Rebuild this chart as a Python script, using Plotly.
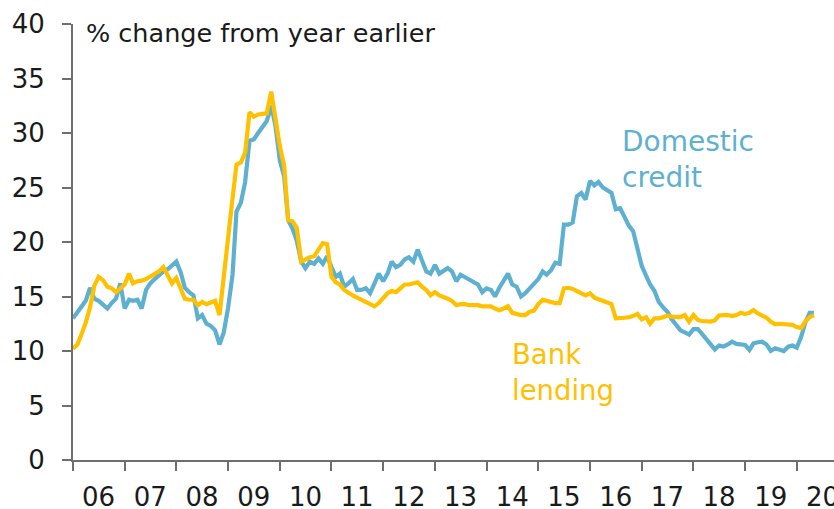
import pandas as pd
import plotly.graph_objects as go

months = pd.date_range("2006-01-01", periods=173, freq="MS")

domestic_credit = [
    13.0, 13.6, 14.0, 14.6, 15.8, 14.8, 14.6, 14.3, 13.9, 14.4, 14.8, 16.2,   # 2006
    13.9, 14.7, 14.6, 14.7, 13.9, 15.6, 16.2, 16.6, 17.0, 17.3, 17.5, 17.8,   # 2007
    18.2, 17.2, 15.8, 15.4, 15.1, 13.0, 13.3, 12.5, 12.3, 11.9, 10.6, 11.7,   # 2008
    14.0, 17.0, 22.8, 23.6, 25.5, 29.3, 29.4, 30.0, 30.6, 31.1, 32.5, 30.7,   # 2009
    27.5, 26.0, 22.0, 21.2, 20.1, 18.2, 17.6, 18.2, 18.0, 18.5, 18.0, 18.7,   # 2010
    17.7, 16.8, 17.1, 15.9, 16.2, 16.6, 15.6, 15.6, 15.75, 15.3, 16.2, 17.1,  # 2011
    16.4, 17.1, 18.2, 17.7, 17.9, 18.4, 18.6, 18.2, 19.3, 18.2, 17.3, 17.1,   # 2012
    17.9, 17.1, 17.3, 17.6, 17.3, 16.4, 17.0, 16.8, 16.6, 16.4, 16.1, 15.4,   # 2013
    15.75, 15.6, 15.0, 15.8, 16.5, 17.1, 16.1, 15.9, 15.0, 15.3, 15.75, 16.2, # 2014
    16.6, 17.3, 17.0, 17.4, 18.1, 18.0, 21.6, 21.6, 21.8, 24.2, 24.5, 23.9,   # 2015
    25.6, 25.2, 25.5, 25.0, 24.7, 24.5, 23.0, 23.1, 22.3, 21.5, 21.0, 19.5,   # 2016
    17.8, 16.9, 16.1, 15.5, 14.5, 14.0, 13.6, 12.9, 12.4, 11.9, 11.7, 11.5,   # 2017
    12.0, 12.0, 11.6, 11.1, 10.6, 10.15, 10.5, 10.4, 10.6, 10.85, 10.65, 10.6, # 2018
    10.55, 10.1, 10.7, 10.8, 10.85, 10.6, 10.0, 10.25, 10.1, 10.0, 10.4, 10.5, # 2019
    10.3, 11.3, 12.6, 13.5, 13.5,                                              # 2020
]

bank_lending = [
    10.2, 10.6, 11.5, 12.6, 14.0, 16.0, 16.8, 16.5, 15.9, 15.75, 15.4, 15.8,  # 2006
    16.1, 17.1, 16.2, 16.4, 16.45, 16.6, 16.8, 17.1, 17.3, 17.7, 17.0, 16.2,  # 2007
    16.7, 15.8, 14.8, 14.7, 14.7, 14.2, 14.5, 14.3, 14.5, 14.6, 13.3, 17.0,   # 2008
    20.5, 24.0, 27.1, 27.3, 28.2, 31.9, 31.5, 31.7, 31.75, 31.8, 33.8, 31.5,  # 2009
    28.8, 27.0, 22.0, 21.9, 21.3, 18.2, 18.4, 18.6, 18.7, 19.3, 19.9, 19.8,   # 2010
    16.8, 16.3, 16.1, 15.6, 15.3, 15.1, 14.9, 14.7, 14.4, 14.2, 14.1, 14.4,   # 2011
    14.8, 15.3, 15.5, 15.4, 15.75, 16.1, 16.1, 16.2, 16.3, 15.9, 15.6, 15.1,  # 2012
    15.4, 15.1, 15.0, 14.8, 14.6, 14.2, 14.3, 14.3, 14.2, 14.2, 14.2, 14.1,   # 2013
    14.1, 14.1, 13.9, 13.75, 13.9, 14.1, 13.5, 13.35, 13.3, 13.3, 13.6, 13.7, # 2014
    14.3, 14.7, 14.6, 14.5, 14.4, 14.4, 15.75, 15.8, 15.7, 15.5, 15.25, 15.1, # 2015
    15.3, 14.9, 14.75, 14.6, 14.5, 14.3, 13.0, 13.0, 13.05, 13.1, 13.2, 13.4, # 2016
    12.9, 13.1, 12.5, 13.0, 13.0, 13.1, 13.25, 13.15, 13.1, 13.1, 13.3, 12.7, # 2017
    13.3, 12.85, 12.75, 12.75, 12.7, 12.8, 13.25, 13.3, 13.3, 13.2, 13.3, 13.5, # 2018
    13.4, 13.5, 13.75, 13.45, 13.3, 13.05, 12.7, 12.45, 12.5, 12.45, 12.45, 12.4, # 2019
    12.2, 12.1, 12.7, 13.1, 13.3,                                              # 2020
]

BLUE = "#5EB0D1"
GOLD = "#FFC000"
AXIS = "#6E6E6E"
TEXT = "#1A1A1A"
FONT = "DejaVu Sans"

fig = go.Figure()
fig.add_trace(go.Scatter(x=months, y=domestic_credit, mode="lines",
                         line=dict(color=BLUE, width=4.2), name="Domestic credit"))
fig.add_trace(go.Scatter(x=months, y=bank_lending, mode="lines",
                         line=dict(color=GOLD, width=4.2), name="Bank lending"))

fig.update_layout(
    width=834, height=509,
    margin=dict(l=73, r=0, t=24, b=49),
    paper_bgcolor="white", plot_bgcolor="white",
    showlegend=False,
    font=dict(family=FONT, size=24, color=TEXT),
)
fig.update_xaxes(
    type="date", range=["2006-01-01", "2020-09-20"],
    tick0="2006-07-01", dtick="M12", tickformat="%y",
    automargin=False, ticklabeloverflow="allow",
    showgrid=False, zeroline=False,
    showline=True, linecolor=AXIS, linewidth=2,
    ticks="", ticklabelstandoff=13,
    minor=dict(ticks="outside", ticklen=9, tickwidth=1.5, tickcolor=AXIS,
               tick0="2006-01-01", dtick="M12", showgrid=False),
    tickfont=dict(family=FONT, size=26, color=TEXT),
)
fig.update_yaxes(
    range=[0, 40], tick0=0, dtick=5,
    automargin=False,
    showgrid=False, zeroline=False,
    showline=True, linecolor=AXIS, linewidth=2,
    ticks="outside", ticklen=9, tickwidth=1.5, tickcolor=AXIS,
    ticklabelstandoff=12,
    tickfont=dict(family=FONT, size=26, color=TEXT),
)

fig.add_annotation(text="% change from year earlier", xref="paper", yref="paper",
                   x=0.014, y=0.98, xanchor="left", yanchor="middle", showarrow=False,
                   font=dict(family=FONT, size=25.5, color=TEXT))
fig.add_annotation(text="Domestic<br>credit", xref="x", yref="y",
                   x="2016-08-01", y=27.6, xanchor="left", yanchor="middle",
                   align="left", showarrow=False,
                   font=dict(family=FONT, size=28, color=BLUE))
fig.add_annotation(text="Bank<br>lending", xref="x", yref="y",
                   x="2014-06-15", y=8.05, xanchor="left", yanchor="middle",
                   align="left", showarrow=False,
                   font=dict(family=FONT, size=27.5, color=GOLD))

fig.write_html(
    "out.html",
    config={"displayModeBar": False},
    post_script="document.body.style.margin='0';document.body.style.overflow='hidden';",
)
